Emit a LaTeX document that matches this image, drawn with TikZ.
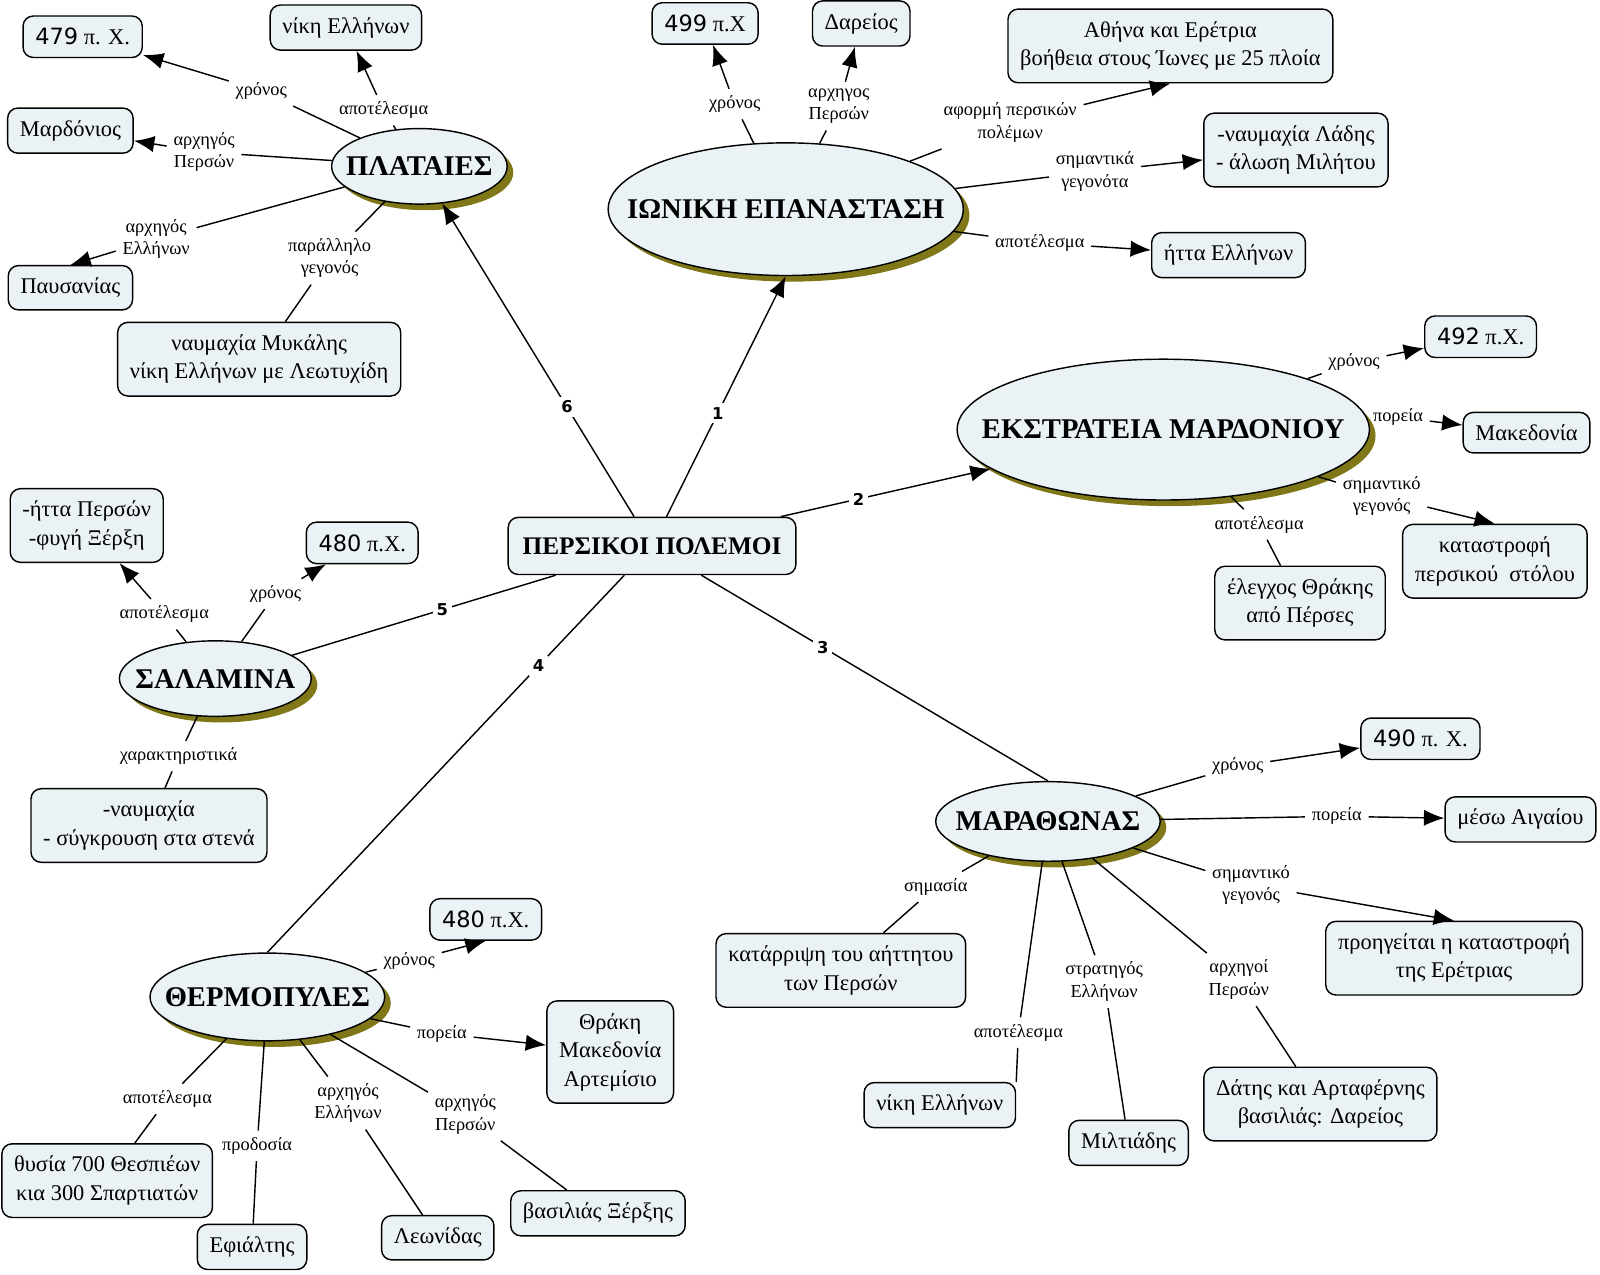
\documentclass[tikz,border=0pt]{standalone}
\usepackage{fontspec}
\setmainfont{Liberation Serif}
\newfontfamily\verd{DejaVu Sans}
\usetikzlibrary{arrows.meta,shapes.geometric,shadows}
\definecolor{cmfill}{RGB}{234,242,246}
\definecolor{cmshadow}{RGB}{128,120,24}
\newcommand\topictext[1]{\makebox[0pt]{#1}}

\begin{document}
\begin{tikzpicture}[->,>={Latex[length=10pt,width=8pt]},x=0.5pt,y=-0.5pt,line width=0.7pt,
  topic node/.style={ellipse,draw,fill=cmfill,inner sep=0pt,font=\bfseries\fontsize{14}{16}\selectfont,drop shadow={shadow xshift=3pt,shadow yshift=-3pt,fill=cmshadow,opacity=1}},
  fact node/.style={rectangle,draw,fill=cmfill,rounded corners=5pt,align=center,inner xsep=6pt,inner ysep=6pt,font=\fontsize{11}{14}\selectfont},
  link node/.style={align=center,inner sep=3pt,font=\fontsize{9}{11}\selectfont},
  num node/.style={fill=white,inner sep=2pt,font=\verd\bfseries\fontsize{8}{10}\selectfont}]
  \useasboundingbox (0,0) rectangle (1568,1249);

  % centre and the six battles
  \node[fact node,font=\bfseries\fontsize{12.4}{14}\selectfont,minimum width=141pt,minimum height=28pt] (root) at (639,535) {ΠΕΡΣΙΚΟΙ ΠΟΛΕΜΟΙ};
  \node[topic node,minimum width=86pt,minimum height=37pt] (plat) at (411,163) {\topictext{ΠΛΑΤΑΙΕΣ}};
  \node[topic node,minimum width=174pt,minimum height=65pt] (ion) at (770,205) {\topictext{ΙΩΝΙΚΗ ΕΠΑΝΑΣΤΑΣΗ}};
  \node[topic node,minimum width=202pt,minimum height=69pt] (eks) at (1140,421) {\topictext{ΕΚΣΤΡΑΤΕΙΑ ΜΑΡΔΟΝΙΟΥ}};
  \node[topic node,minimum width=94pt,minimum height=37pt] (sal) at (211,665) {\topictext{ΣΑΛΑΜΙΝΑ}};
  \node[topic node,minimum width=115pt,minimum height=43pt] (therm) at (262,977) {\topictext{ΘΕΡΜΟΠΥΛΕΣ}};
  \node[topic node,minimum width=110pt,minimum height=39pt] (mar) at (1027,805) {\topictext{ΜΑΡΑΘΩΝΑΣ}};

  % Plataies
  \node[fact node] (y479) at (81,36) {{\verd 479} π. Χ.};
  \node[fact node] (nikeP) at (339,27) {νίκη Ελλήνων};
  \node[fact node] (mard) at (69,128) {Μαρδόνιος};
  \node[fact node] (paus) at (69,282) {Παυσανίας};
  \node[fact node] (myk) at (254,352) {ναυμαχία Μυκάλης\\νίκη Ελλήνων με Λεωτυχίδη};
  \node[link node] (lPy) at (256,89) {χρόνος};
  \node[link node] (lPa) at (376,108) {αποτέλεσμα};
  \node[link node] (lPp) at (200,149) {αρχηγός\\Περσών};
  \node[link node] (lPe) at (153,234) {αρχηγός\\Ελλήνων};
  \node[link node] (lPg) at (323,253) {παράλληλο\\γεγονός};

  % Ioniki epanastasi
  \node[fact node] (y499) at (691,23) {{\verd 499} π.Χ};
  \node[fact node] (dar) at (844,23) {Δαρείος};
  \node[fact node] (ather) at (1147,45) {Αθήνα και Ερέτρια\\βοήθεια στους Ίωνες με 25 πλοία};
  \node[fact node] (lad) at (1270,147) {-ναυμαχία Λάδης\\- άλωση Μιλήτου};
  \node[fact node] (httaE) at (1204,250) {ήττα Ελλήνων};
  \node[link node] (lIy) at (720,102) {χρόνος};
  \node[link node] (lIp) at (822,104) {αρχηγος\\Περσών};
  \node[link node] (lIa) at (990,120) {αφορμή περσικών\\πολέμων};
  \node[link node] (lIs) at (1073,168) {σημαντικά\\γεγονότα};
  \node[link node] (lIr) at (1019,238) {αποτέλεσμα};

  % Ekstrateia Mardoniou
  \node[fact node] (y492) at (1451,330) {{\verd 492} π.Χ.};
  \node[fact node] (maked) at (1496,424) {Μακεδονία};
  \node[fact node] (katastr) at (1465,550) {καταστροφή\\περσικού\ \ στόλου};
  \node[fact node] (elegx) at (1274,591) {έλεγχος Θράκης\\από Πέρσες};
  \node[link node] (lEy) at (1327,355) {χρόνος};
  \node[link node] (lEp) at (1370,409) {πορεία};
  \node[link node] (lEs) at (1354,486) {σημαντικό\\γεγονός};
  \node[link node] (lEa) at (1234,514) {αποτέλεσμα};

  % Salamina
  \node[fact node] (httaP) at (85,515) {-ήττα Περσών\\-φυγή Ξέρξη};
  \node[fact node] (y480s) at (355,532) {{\verd 480} π.Χ.};
  \node[fact node] (naumS) at (146,809) {-ναυμαχία\\- σύγκρουση στα στενά};
  \node[link node] (lSa) at (161,602) {αποτέλεσμα};
  \node[link node] (lSy) at (270,582) {χρόνος};
  \node[link node] (lSc) at (175,741) {χαρακτηριστικά};

  % Thermopyles
  \node[fact node] (y480t) at (476,901) {{\verd 480} π.Χ.};
  \node[fact node] (thrak) at (598,1031) {Θράκη\\Μακεδονία\\Αρτεμίσιο};
  \node[fact node] (thys) at (105,1157) {θυσία 700 Θεσπιέων\\κια 300 Σπαρτιατών};
  \node[fact node] (efi) at (247,1222) {Εφιάλτης};
  \node[fact node] (leon) at (429,1213) {Λεωνίδας};
  \node[fact node] (xerx) at (586,1189) {βασιλιάς Ξέρξης};
  \node[link node] (lTy) at (401,942) {χρόνος};
  \node[link node] (lTp) at (433,1013) {πορεία};
  \node[link node] (lTa) at (164,1077) {αποτέλεσμα};
  \node[link node] (lTd) at (252,1123) {προδοσία};
  \node[link node] (lTe) at (341,1081) {αρχηγός\\Ελλήνων};
  \node[link node] (lTx) at (456,1092) {αρχηγός\\Περσών};

  % Marathonas
  \node[fact node] (y490) at (1392,724) {{\verd 490} π. Χ.};
  \node[fact node] (aigaio) at (1490,803) {μέσω Αιγαίου};
  \node[fact node] (eretr) at (1425,939) {προηγείται η καταστροφή\\της Ερέτριας};
  \node[fact node] (katarr) at (824,951) {κατάρριψη του αήττητου\\των Περσών};
  \node[fact node] (nikeM) at (921,1083) {νίκη Ελλήνων};
  \node[fact node] (milt) at (1106,1120) {Μιλτιάδης};
  \node[fact node] (datis) at (1294,1082) {Δάτης και Αρταφέρνης\\βασιλιάς: Δαρείος};
  \node[link node] (lMy) at (1213,751) {χρόνος};
  \node[link node] (lMp) at (1310,800) {πορεία};
  \node[link node] (lMs) at (1226,867) {σημαντικό\\γεγονός};
  \node[link node] (lMm) at (917,869) {σημασία};
  \node[link node] (lMa) at (998,1012) {αποτέλεσμα};
  \node[link node] (lMe) at (1082,962) {στρατηγός\\Ελλήνων};
  \node[link node] (lMx) at (1214,960) {αρχηγοί\\Περσών};

\path
  (root) edge node[num node,pos=0.43] {1} (ion.south)
  (root) edge node[num node,pos=0.37] {2} (eks)
  (root) edge[-] node[num node,pos=0.35] {3} (mar.north)
  (root) edge[-] node[num node,pos=0.24] {4} (therm.north)
  (root) edge[-] node[num node,pos=0.43] {5} (sal)
  (root) edge node[num node,pos=0.35] {6} (plat)
;
\path
  (plat) edge[-] (lPy) (lPy) edge (y479)
  (plat) edge[-] (lPa) (lPa) edge (nikeP)
  (plat) edge[-] (lPp) (lPp) edge (mard)
  (plat) edge[-] (lPe) (lPe) edge (paus.north)
  (plat) edge[-] (lPg) (lPg) edge[-] (myk)
  (ion) edge[-] (lIy) (lIy) edge (y499)
  (ion) edge[-] (lIp) (lIp) edge (dar)
  (ion) edge[-] (lIa) (lIa) edge (ather.south)
  (ion) edge[-] (lIs) (lIs) edge (lad)
  (ion) edge[-] (lIr) (lIr) edge (httaE)
  (eks) edge[-] (lEy) (lEy) edge (y492)
  (eks) edge[-] (lEp) (lEp) edge (maked)
  (eks) edge[-] (lEs) (lEs) edge (katastr.north)
  (eks) edge[-] (lEa) (lEa) edge[-] (elegx)
  (sal) edge[-] (lSa) (lSa) edge (httaP)
  (sal) edge[-] (lSy) (lSy) edge (y480s)
  (sal) edge[-] (lSc) (lSc) edge[-] (naumS)
  (therm) edge[-] (lTy) (lTy) edge (y480t.south)
  (therm) edge[-] (lTp) (lTp) edge (thrak)
  (therm) edge[-] (lTa) (lTa) edge[-] (thys)
  (therm) edge[-] (lTd) (lTd) edge[-] (efi)
  (therm) edge[-] (lTe) (lTe) edge[-] (leon)
  (therm) edge[-] (lTx) (lTx) edge[-] (xerx)
  (mar) edge[-] (lMy) (lMy) edge (y490)
  (mar) edge[-] (lMp) (lMp) edge (aigaio)
  (mar) edge[-] (lMs) (lMs) edge (eretr.north)
  (mar) edge[-] (lMm) (lMm) edge[-] (katarr)
  (mar) edge[-] (lMa) (lMa) edge[-] (nikeM.north east)
  (mar) edge[-] (lMe) (lMe) edge[-] (milt)
  (mar) edge[-] (lMx) (lMx) edge[-] (datis)
;
\end{tikzpicture}
\end{document}
